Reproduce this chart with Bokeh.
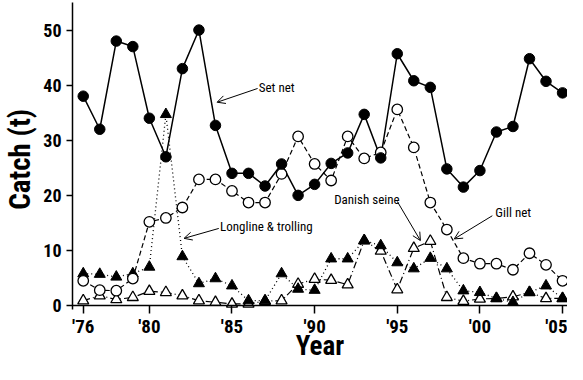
from bokeh.plotting import figure
from bokeh.models import (ColumnDataSource, FixedTicker, Span, Label, Arrow, OpenHead, Range1d)
from bokeh.embed import file_html
from bokeh.resources import INLINE

years = list(range(1976, 2006))

set_net = [38, 32, 48, 47, 34, 27, 43, 50, 32.7, 24, 24, 21.7, 25.7, 20, 22,
           25.8, 27.7, 34.7, 26.8, 45.7, 40.8, 39.6, 24.8, 21.5, 24.5, 31.5, 32.5,
           44.8, 40.7, 38.6]
gill_net = [4.5, 2.8, 2.7, 4.9, 15.2, 15.9, 17.8, 22.9, 22.9, 20.8, 18.7, 18.7,
            23.9, 30.7, 25.7, 22.7, 30.7, 26.7, 27.8, 35.6, 28.7, 18.7, 13.8, 8.6,
            7.6, 7.6, 6.5, 9.5, 7.4, 4.5]
longline = [5.8, 5.7, 5.2, 5.8, 7.0, 34.7, 8.9, 4.0, 4.9, 3.6, 0.9, 0.9, 5.8,
            3.0, 2.8, 8.5, 8.5, 11.8, 10.9, 7.8, 6.7, 8.6, 6.7, 2.7, 2.4, 1.3,
            0.6, 2.4, 3.6, 1.3]
danish = [0.9, 1.8, 1.1, 1.5, 2.6, 2.4, 1.8, 0.9, 0.6, 0.3, 0.3, 0.8, 0.9,
          3.9, 4.8, 4.6, 3.8, 11.8, 9.9, 2.9, 10.4, 11.7, 1.5, 0.8, 1.2, 1.3,
          1.6, 2.4, 1.3, 1.3]

tick_years = [1976, 1980, 1985, 1990, 1995, 2000, 2005]
tick_labels = ["'76", "'80", "'85", "'90", "'95", "'00", "'05"]
y_ticks = [0, 10, 20, 30, 40, 50]

FONT = "'Roboto Condensed', 'Open Sans Condensed', 'Liberation Sans Narrow', 'DejaVu Sans Condensed', sans-serif"

src = ColumnDataSource(dict(year=years, set_net=set_net, gill_net=gill_net,
                            longline=longline, danish=danish))

p = figure(width=567, height=364, output_backend="svg", toolbar_location=None,
           x_range=Range1d(1975.35, 2005.3), y_range=Range1d(-0.71, 55),
           min_border_left=10, min_border_right=0, min_border_top=2,
           min_border_bottom=0)
p.outline_line_color = None
p.grid.visible = False
p.background_fill_color = "white"

# x axis
xa = p.xaxis[0]
xa.ticker = FixedTicker(ticks=tick_years)
xa.major_label_overrides = {t: l for t, l in zip(tick_years, tick_labels)}
xa.axis_line_color = None
xa.major_tick_in = 4
xa.major_tick_out = 4
xa.major_tick_line_width = 1.5
xa.minor_tick_line_color = None
xa.major_label_text_font = FONT
xa.major_label_text_font_style = "bold"
xa.major_label_text_font_size = "19px"
xa.major_label_text_color = "black"
xa.major_label_standoff = 1
xa.axis_label = "Year"
xa.axis_label_text_font = FONT
xa.axis_label_text_font_style = "bold"
xa.axis_label_text_font_size = "27px"
xa.axis_label_text_color = "black"
xa.axis_label_standoff = -11

ya = p.yaxis[0]
ya.ticker = FixedTicker(ticks=y_ticks)
ya.axis_line_width = 1.5
ya.major_tick_in = 0
ya.major_tick_out = 6
ya.major_tick_line_width = 1.5
ya.minor_tick_line_color = None
ya.major_label_text_font = FONT
ya.major_label_text_font_style = "bold"
ya.major_label_text_font_size = "18px"
ya.major_label_text_color = "black"
ya.major_label_standoff = 5
ya.axis_label = "Catch  (t)"
ya.axis_label_text_font = FONT
ya.axis_label_text_font_style = "bold"
ya.axis_label_text_font_size = "29px"
ya.axis_label_text_color = "black"
ya.axis_label_standoff = 3

p.add_layout(Span(location=0, dimension="width", line_color="black", line_width=1.5))

# lines
p.line("year", "longline", source=src, line_color="black", line_width=1.3, line_dash="1 3")
p.line("year", "danish", source=src, line_color="black", line_width=1.2, line_dash="7 3 1 3")
p.line("year", "gill_net", source=src, line_color="black", line_width=1.2, line_dash="5 3")
p.line("year", "set_net", source=src, line_color="black", line_width=1.5)

# markers
p.scatter("year", "danish", source=src, marker="triangle", size=11,
          fill_color="white", line_color="black", line_width=1.3)
p.scatter("year", "longline", source=src, marker="triangle", size=11,
          fill_color="black", line_color="black", line_width=1)
p.scatter("year", "gill_net", source=src, marker="circle", size=10.5,
          fill_color="white", line_color="black", line_width=1.3)
p.scatter("year", "set_net", source=src, marker="circle", size=10.5,
          fill_color="black", line_color="black", line_width=1)

# annotations
def note(text, x, y):
    p.add_layout(Label(x=x, y=y, text=text, text_font=FONT, text_font_size="13px",
                       text_baseline="middle", text_color="black"))

def arrow(x0, y0, x1, y1):
    p.add_layout(Arrow(x_start=x0, y_start=y0, x_end=x1, y_end=y1,
                       line_width=1, line_color="black",
                       end=OpenHead(size=8, line_width=1, line_color="black")))

note("Set net", 1986.62, 39.5)
arrow(1986.55, 39.4, 1984.1, 36.9)
note("Longline & trolling", 1984.28, 14.3)
arrow(1984.2, 14.0, 1982.1, 12.2)
note("Danish seine", 1991.18, 19.3)
arrow(1995.0, 18.9, 1996.4, 11.8)
note("Gill net", 2000.93, 16.9)
arrow(2000.75, 16.3, 1998.45, 12.1)

open("out.html", "w").write(file_html(p, INLINE))
